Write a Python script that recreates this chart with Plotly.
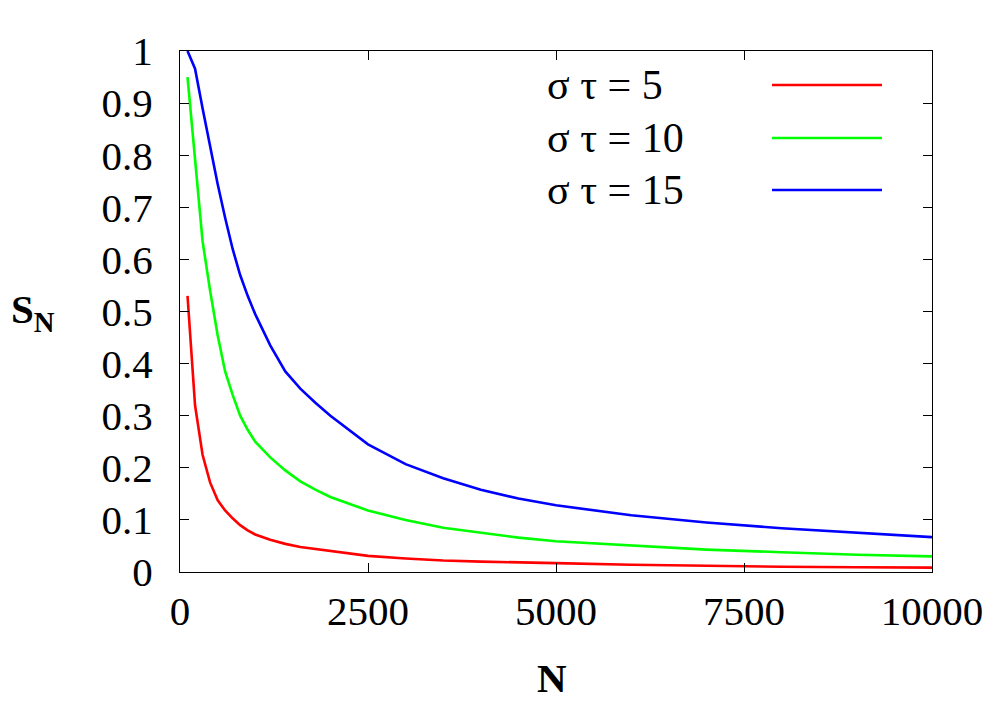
import plotly.graph_objects as go

N = [100, 200, 300, 400, 500, 600, 700, 800, 900, 1000, 1200, 1400, 1600, 1800,
     2000, 2500, 3000, 3500, 4000, 4500, 5000, 6000, 7000, 8000, 9000, 10000]

s_tau5 = [0.53, 0.32, 0.225, 0.172, 0.138, 0.118, 0.103, 0.090, 0.080, 0.072,
          0.062, 0.054, 0.048, 0.044, 0.040, 0.031, 0.026, 0.022, 0.020, 0.018,
          0.017, 0.014, 0.0115, 0.010, 0.009, 0.0084]
s_tau10 = [0.95, 0.785, 0.635, 0.54, 0.455, 0.385, 0.34, 0.30, 0.273, 0.25,
           0.22, 0.195, 0.174, 0.158, 0.144, 0.118, 0.100, 0.085, 0.075, 0.066,
           0.059, 0.051, 0.043, 0.038, 0.033, 0.030]
s_tau15 = [1.0, 0.966, 0.89, 0.815, 0.745, 0.68, 0.62, 0.57, 0.53, 0.495,
           0.435, 0.385, 0.352, 0.325, 0.30, 0.245, 0.207, 0.18, 0.158, 0.141,
           0.128, 0.109, 0.095, 0.084, 0.075, 0.067]

labels = ["σ τ = 5", "σ τ = 10", "σ τ = 15"]
colors = ["#ff0000", "#00ff00", "#0000ff"]
series = [s_tau5, s_tau10, s_tau15]

x_ticks = [0, 2500, 5000, 7500, 10000]

FONT = "Liberation Serif, Times New Roman, serif"

# page has an 8px body margin; compensate so that the figure lands where the reference is
OFF = 8
W, H = 1008 - OFF, 706 - OFF
L, R, T, B = 180 - OFF, 932 - OFF, 51 - OFF, 572 - OFF
PW, PH = R - L, B - T


def px(xp):
    return (xp - OFF - L) / PW


def py(yp):
    return (B - (yp - OFF)) / PH


fig = go.Figure()
for lab, col, ys in zip(labels, colors, series):
    fig.add_trace(go.Scatter(x=N, y=ys, mode="lines", name=lab,
                             line=dict(color=col, width=2.6), showlegend=False))

axis_common = dict(showline=True, linecolor="black", linewidth=1, mirror="ticks",
                   ticks="inside", ticklen=9, tickwidth=1, tickcolor="black",
                   showgrid=False, zeroline=False,
                   tickfont=dict(family=FONT, size=41, color="black"))

fig.update_xaxes(range=[0, 10000], tickvals=x_ticks,
                 ticktext=[str(v) for v in x_ticks], ticklabelstandoff=3,
                 **axis_common)
fig.update_yaxes(range=[0, 1], dtick=0.1, ticklabelstandoff=18, **axis_common)

annotations = []
shapes = []
legend_y = [85, 138, 190]
for lab, col, yy in zip(labels, colors, legend_y):
    annotations.append(dict(x=px(545), y=py(yy), xref="paper", yref="paper",
                            text=lab, showarrow=False, xanchor="left", yanchor="middle",
                            font=dict(family=FONT, size=42, color="black")))
    shapes.append(dict(type="line", xref="paper", yref="paper",
                       x0=px(772), x1=px(882), y0=py(yy), y1=py(yy),
                       line=dict(color=col, width=2.6)))

# axis titles
annotations.append(dict(x=px(33), y=py(312), xref="paper", yref="paper",
                        text="<b>S<sub>N</sub></b>", showarrow=False,
                        xanchor="center", yanchor="middle",
                        font=dict(family=FONT, size=41, color="black")))
annotations.append(dict(x=px(552), y=py(678), xref="paper", yref="paper",
                        text="<b>N</b>", showarrow=False,
                        xanchor="center", yanchor="middle",
                        font=dict(family=FONT, size=41, color="black")))

fig.update_layout(width=W, height=H, autosize=False,
                  margin=dict(l=L, r=W - R, t=T, b=H - B),
                  paper_bgcolor="white", plot_bgcolor="white",
                  annotations=annotations, shapes=shapes)

fig.write_html("out.html")
